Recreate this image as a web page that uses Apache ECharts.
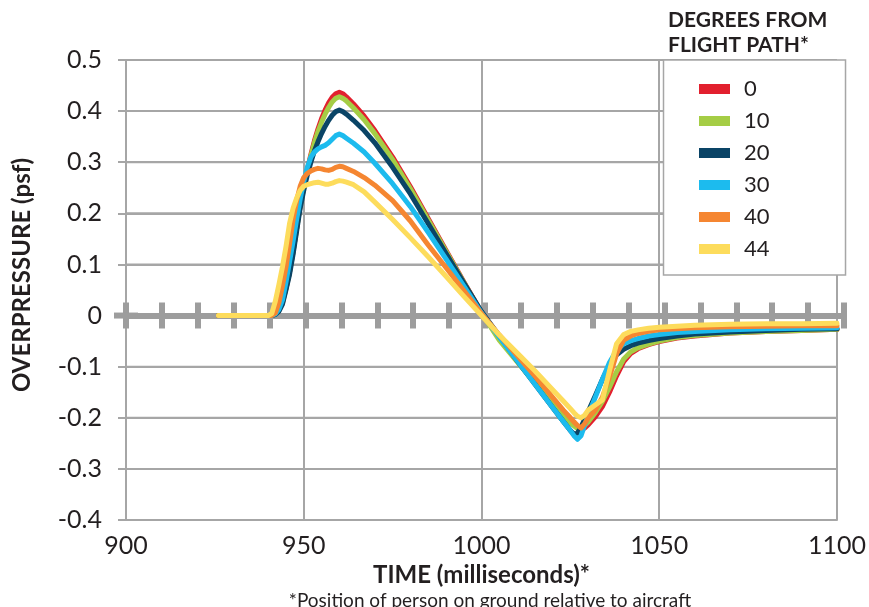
<!DOCTYPE html>
<html>
<head>
<meta charset="utf-8">
<script src="https://cdn.jsdelivr.net/npm/echarts@6/dist/echarts.min.js"></script>
<style>html,body{margin:0;padding:0;background:#fff}#c{width:869px;height:607px}</style>
</head>
<body>
<div id="c"></div>
<script>
// ---- data ----
const timeMs = [926, 940, 941, 942, 943, 944, 945, 946, 947, 948, 949, 950, 951, 952, 953, 954, 955, 956, 957, 958, 959, 960, 961, 962, 964, 967, 970, 975, 980, 985, 990, 995, 1000, 1005, 1010, 1015, 1020, 1023, 1025, 1026, 1027, 1028, 1029, 1030, 1032, 1034, 1036, 1038, 1040, 1042, 1044, 1047, 1050, 1055, 1060, 1070, 1080, 1090, 1100];

const seriesNames = ['0', '10', '20', '30', '40', '44'];

const deg0 = [0, 0, 0, 0.003, 0.01, 0.025, 0.053, 0.085, 0.125, 0.17, 0.215, 0.252, 0.285, 0.315, 0.342, 0.365, 0.385, 0.402, 0.416, 0.427, 0.434, 0.437, 0.434, 0.428, 0.414, 0.39, 0.362, 0.31, 0.252, 0.19, 0.128, 0.066, 0.006, -0.045, -0.085, -0.125, -0.165, -0.19, -0.205, -0.213, -0.22, -0.222, -0.22, -0.214, -0.198, -0.178, -0.15, -0.118, -0.09, -0.074, -0.065, -0.057, -0.051, -0.044, -0.04, -0.034, -0.031, -0.029, -0.027];

const deg10 = [0, 0, 0, 0.003, 0.01, 0.025, 0.053, 0.085, 0.125, 0.17, 0.214, 0.25, 0.283, 0.312, 0.338, 0.36, 0.378, 0.394, 0.407, 0.418, 0.425, 0.428, 0.425, 0.42, 0.406, 0.383, 0.356, 0.305, 0.248, 0.187, 0.126, 0.065, 0.005, -0.048, -0.09, -0.132, -0.172, -0.196, -0.21, -0.216, -0.221, -0.22, -0.215, -0.208, -0.19, -0.168, -0.14, -0.11, -0.085, -0.071, -0.063, -0.056, -0.05, -0.043, -0.039, -0.034, -0.031, -0.029, -0.027];

const deg20 = [0, 0, 0, 0.002, 0.008, 0.022, 0.05, 0.08, 0.12, 0.165, 0.21, 0.245, 0.275, 0.3, 0.322, 0.34, 0.356, 0.37, 0.382, 0.392, 0.399, 0.402, 0.399, 0.394, 0.382, 0.362, 0.338, 0.29, 0.238, 0.18, 0.122, 0.064, 0.008, -0.04, -0.088, -0.134, -0.18, -0.207, -0.225, -0.232, -0.23, -0.218, -0.203, -0.188, -0.157, -0.125, -0.097, -0.077, -0.066, -0.059, -0.054, -0.049, -0.045, -0.04, -0.036, -0.032, -0.029, -0.027, -0.026];

const deg30 = [0, 0, 0, 0.003, 0.012, 0.03, 0.065, 0.105, 0.145, 0.188, 0.228, 0.262, 0.29, 0.31, 0.32, 0.326, 0.33, 0.333, 0.338, 0.345, 0.352, 0.355, 0.352, 0.347, 0.337, 0.32, 0.298, 0.258, 0.213, 0.163, 0.111, 0.058, 0.005, -0.042, -0.088, -0.134, -0.18, -0.207, -0.225, -0.235, -0.242, -0.235, -0.215, -0.195, -0.16, -0.125, -0.092, -0.068, -0.055, -0.049, -0.045, -0.04, -0.037, -0.033, -0.031, -0.028, -0.026, -0.025, -0.024];

const deg40 = [0, 0, 0, 0.005, 0.025, 0.058, 0.095, 0.14, 0.188, 0.225, 0.253, 0.27, 0.278, 0.283, 0.286, 0.288, 0.287, 0.285, 0.284, 0.286, 0.29, 0.292, 0.291, 0.288, 0.282, 0.27, 0.255, 0.225, 0.185, 0.138, 0.094, 0.049, 0.004, -0.038, -0.078, -0.118, -0.16, -0.185, -0.2, -0.208, -0.215, -0.22, -0.212, -0.2, -0.185, -0.16, -0.12, -0.075, -0.048, -0.04, -0.035, -0.031, -0.028, -0.026, -0.024, -0.022, -0.021, -0.02, -0.02];

const deg44 = [0, 0, 0.004, 0.028, 0.06, 0.095, 0.135, 0.18, 0.21, 0.23, 0.245, 0.253, 0.256, 0.258, 0.26, 0.261, 0.259, 0.257, 0.257, 0.259, 0.262, 0.264, 0.263, 0.261, 0.256, 0.242, 0.222, 0.188, 0.152, 0.115, 0.077, 0.038, 0, -0.038, -0.073, -0.108, -0.145, -0.167, -0.182, -0.19, -0.197, -0.2, -0.195, -0.185, -0.175, -0.165, -0.108, -0.055, -0.037, -0.031, -0.028, -0.025, -0.023, -0.021, -0.019, -0.017, -0.016, -0.016, -0.015];

const seriesValues = [deg0, deg10, deg20, deg30, deg40, deg44];
const seriesColors = ['#e2202e', '#a5cd45', '#0a4466', '#1cbbee', '#f58631', '#fddc5c'];

const xTickLabels = ['900', '950', '1000', '1050', '1100'];
const yTickLabels = ['-0.4', '-0.3', '-0.2', '-0.1', '0', '0.1', '0.2', '0.3', '0.4', '0.5'];
const yGridValues = [-0.3, -0.2, -0.1, 0.1, 0.2, 0.3, 0.4, 0.5];

// ---- layout ----
const X_MIN = 900, X_MAX = 1100;
const Y_MIN = -0.4, Y_MAX = 0.5;
const G_LEFT = 126, G_RIGHT = 25, G_TOP = 60, G_BOTTOM = 87, H = 607;
const G_HEIGHT = H - G_TOP - G_BOTTOM;
const ZERO_Y = G_TOP + G_HEIGHT * (Y_MAX - 0) / (Y_MAX - Y_MIN);

const FONT = 'Lato, "Open Sans", sans-serif';
const GRAY = '#a6a6a6';
const AXGRAY = '#9d9d9d';
const TXT = '#231f20';
const chart = echarts.init(document.getElementById('c'), null, {renderer: 'canvas'});

const lineSeries = seriesNames.map((n, i) => ({
  name: n,
  type: 'line',
  xAxisIndex: 0,
  yAxisIndex: 0,
  data: timeMs.map((t, k) => [t, seriesValues[i][k]]),
  showSymbol: false,
  symbol: 'none',
  smooth: false,
  color: seriesColors[i],
  lineStyle: {width: 5, color: seriesColors[i], cap: 'round', join: 'round'},
  z: 3 + i
}));

// horizontal gridlines drawn through the axes' scales
const gridLineSeries = {
  name: 'gridlines',
  type: 'custom',
  xAxisIndex: 0, yAxisIndex: 0,
  silent: true, z: 1,
  data: yGridValues.map(v => [v]),
  renderItem: (params, api) => {
    const v = api.value(0);
    const p1 = api.coord([X_MIN, v]);
    const p2 = api.coord([X_MAX, v]);
    return {type: 'line', shape: {x1: p1[0], y1: p1[1], x2: p2[0], y2: p2[1]},
      style: {stroke: GRAY, lineWidth: 2}};
  }
};

// zero line with crossing ticks: two thin helper grids meeting at y = 0
function zeroAxis(gridIndex, position, withSymbol) {
  const line = {show: true, onZero: false, lineStyle: {color: AXGRAY, width: 6}};
  if (withSymbol) { line.symbol = ['rect', 'none']; line.symbolSize = [6, 24]; }
  return {
    gridIndex: gridIndex,
    type: 'value', min: X_MIN, max: X_MAX, interval: 10,
    position: position,
    axisLabel: {show: false},
    splitLine: {show: false},
    axisLine: line,
    axisTick: {show: true, inside: false, length: 13, lineStyle: {color: AXGRAY, width: 6}}
  };
}
function hiddenY(gridIndex) {
  return {gridIndex: gridIndex, type: 'value', min: 0, max: 1, show: false,
    axisLine: {show: false, onZero: false}, splitLine: {show: false}};
}

chart.setOption({
  animation: false,
  backgroundColor: '#ffffff',
  textStyle: {fontFamily: FONT},
  grid: [
    {left: G_LEFT, right: G_RIGHT, top: G_TOP, bottom: G_BOTTOM, containLabel: false},
    {left: G_LEFT, right: G_RIGHT, top: G_TOP, height: ZERO_Y - G_TOP, containLabel: false},
    {left: G_LEFT, right: G_RIGHT, top: ZERO_Y, height: G_TOP + G_HEIGHT - ZERO_Y, containLabel: false}
  ],
  title: [
    {
      text: 'DEGREES FROM\nFLIGHT PATH*',
      left: 663, top: 3,
      textStyle: {fontFamily: FONT, fontSize: 21, fontWeight: 'bold', color: TXT, lineHeight: 25}
    },
    {
      text: '*Position of person on ground relative to aircraft',
      left: 485, top: 586, textAlign: 'center',
      textStyle: {fontFamily: FONT, fontSize: 19, fontWeight: 'normal', color: TXT}
    }
  ],
  legend: {
    data: seriesNames,
    orient: 'vertical',
    left: 663.5, top: 60,
    padding: [18, 76, 15, 35.5],
    itemWidth: 31, itemHeight: 10, itemGap: 10,
    icon: 'rect',
    backgroundColor: '#ffffff',
    borderColor: GRAY, borderWidth: 1.5,
    textStyle: {fontFamily: FONT, fontSize: 22, color: TXT, lineHeight: 20, padding: [0, 0, 0, 9]}
  },
  xAxis: [
    {
      gridIndex: 0,
      type: 'value', min: X_MIN, max: X_MAX, interval: 50,
      position: 'bottom',
      name: 'TIME (milliseconds)*', nameLocation: 'middle', nameGap: 42,
      nameTextStyle: {fontFamily: FONT, fontSize: 24, fontWeight: 'bold', color: TXT},
      axisLine: {show: true, onZero: false, lineStyle: {color: GRAY, width: 2}},
      axisTick: {show: false},
      axisLabel: {margin: 13, fontSize: 25, color: TXT, fontFamily: FONT,
        formatter: v => xTickLabels[Math.round((v - X_MIN) / 50)]},
      splitLine: {show: true, lineStyle: {color: GRAY, width: 2}}
    },
    zeroAxis(1, 'bottom', true),
    zeroAxis(2, 'top', false)
  ],
  yAxis: [
    {
      gridIndex: 0,
      type: 'value', min: Y_MIN, max: Y_MAX, interval: 0.1,
      name: 'OVERPRESSURE (psf)', nameLocation: 'middle', nameGap: 92,
      nameTextStyle: {fontFamily: FONT, fontSize: 24, fontWeight: 'bold', color: TXT, padding: [0, 0, 0, 30]},
      axisLine: {show: true, lineStyle: {color: GRAY, width: 2}},
      axisTick: {show: true, length: 8, lineStyle: {color: GRAY, width: 2}},
      axisLabel: {margin: 24, fontSize: 25, color: TXT, fontFamily: FONT,
        formatter: v => yTickLabels[Math.round((v - Y_MIN) * 10)]},
      splitLine: {show: true, lineStyle: {color: GRAY, width: 2}}
    },
    hiddenY(1),
    hiddenY(2)
  ],
  series: [gridLineSeries].concat(lineSeries)
});
</script>
</body>
</html>
